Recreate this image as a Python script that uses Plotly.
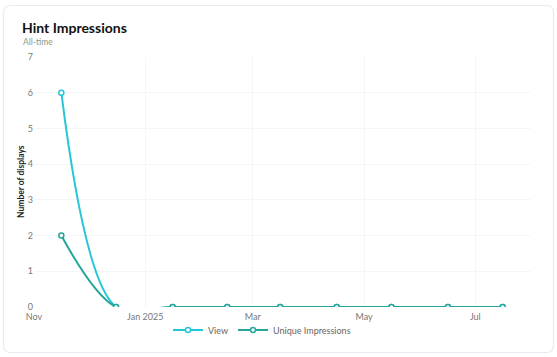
import plotly.graph_objects as go

dates = ["2024-11-16", "2024-12-16", "2025-01-16", "2025-02-15", "2025-03-16",
         "2025-04-16", "2025-05-16", "2025-06-16", "2025-07-16"]
view = [6, 0, 0, 0, 0, 0, 0, 0, 0]
unique = [2, 0, 0, 0, 0, 0, 0, 0, 0]
tick_vals = ["2024-11-01", "2025-01-01", "2025-03-01", "2025-05-01", "2025-07-01"]
tick_text = ["Nov", "Jan 2025", "Mar", "May", "Jul"]

W, H = 557, 357
L, R, T, B = 34, 27, 57, 50
pw, ph = W - L - R, H - T - B

def px(x):
    return (x - L) / pw

def py(y):
    return (H - B - y) / ph

FONT = "Lato, 'Open Sans', sans-serif"

fig = go.Figure()
fig.add_trace(go.Scatter(
    x=dates, y=view, name="View", mode="lines+markers",
    line=dict(color="#26C6DA", width=2, shape="spline", smoothing=1.0),
    marker=dict(size=5, color="white", line=dict(color="#26C6DA", width=1.5)),
))
fig.add_trace(go.Scatter(
    x=dates, y=unique, name="Unique Impressions", mode="lines+markers",
    line=dict(color="#26A69A", width=2, shape="spline", smoothing=1.0),
    marker=dict(size=5, color="white", line=dict(color="#26A69A", width=1.5)),
))

# rounded card border
x0, x1, y0, y1, r = 3.5, 553.5, 5.5, 352.5, 7
path = (f"M {px(x0+r)},{py(y0)} L {px(x1-r)},{py(y0)} Q {px(x1)},{py(y0)} {px(x1)},{py(y0+r)} "
        f"L {px(x1)},{py(y1-r)} Q {px(x1)},{py(y1)} {px(x1-r)},{py(y1)} "
        f"L {px(x0+r)},{py(y1)} Q {px(x0)},{py(y1)} {px(x0)},{py(y1-r)} "
        f"L {px(x0)},{py(y0+r)} Q {px(x0)},{py(y0)} {px(x0+r)},{py(y0)} Z")
fig.add_shape(type="path", path=path, xref="paper", yref="paper",
              line=dict(color="#e6ebf2", width=1.2), layer="below")

fig.update_layout(
    width=W, height=H,
    margin=dict(l=L, r=R, t=T, b=B, autoexpand=False),
    paper_bgcolor="white", plot_bgcolor="white",
    font=dict(family=FONT, size=9, color="#777"),
    showlegend=True,
    legend=dict(orientation="h", x=px(262), xanchor="center", y=py(330), yanchor="middle",
                font=dict(size=9, color="#666"), itemwidth=30,
                bgcolor="rgba(0,0,0,0)"),
    xaxis=dict(range=["2024-11-01", "2025-07-31"], tickvals=tick_vals, ticktext=tick_text,
               showgrid=True, gridcolor="#f4f5f7", zeroline=False, showline=False,
               ticks="", ticklabelstandoff=3, tickfont=dict(size=9, color="#777")),
    yaxis=dict(range=[0, 7], dtick=1, showgrid=True, gridcolor="#f4f5f7",
               zeroline=False, showline=False, ticks="",
               tickfont=dict(size=9, color="#777")),
    annotations=[
        dict(text="<b>Hint Impressions</b>", xref="paper", yref="paper", x=px(20), y=py(28),
             xanchor="left", yanchor="middle", showarrow=False,
             font=dict(family=FONT, size=14, color="#111")),
        dict(text="All-time", xref="paper", yref="paper", x=px(21), y=py(42),
             xanchor="left", yanchor="middle", showarrow=False,
             font=dict(family=FONT, size=8.5, color="#8e9a86")),
        dict(text="<b>Number of displays</b>", xref="paper", yref="paper", x=px(21), y=py(182),
             xanchor="center", yanchor="middle", showarrow=False, textangle=-90,
             font=dict(family=FONT, size=8.5, color="#222")),
    ],
)

fig.write_html("out.html", config={"displayModeBar": False},
               post_script="document.body.style.margin='0';")
